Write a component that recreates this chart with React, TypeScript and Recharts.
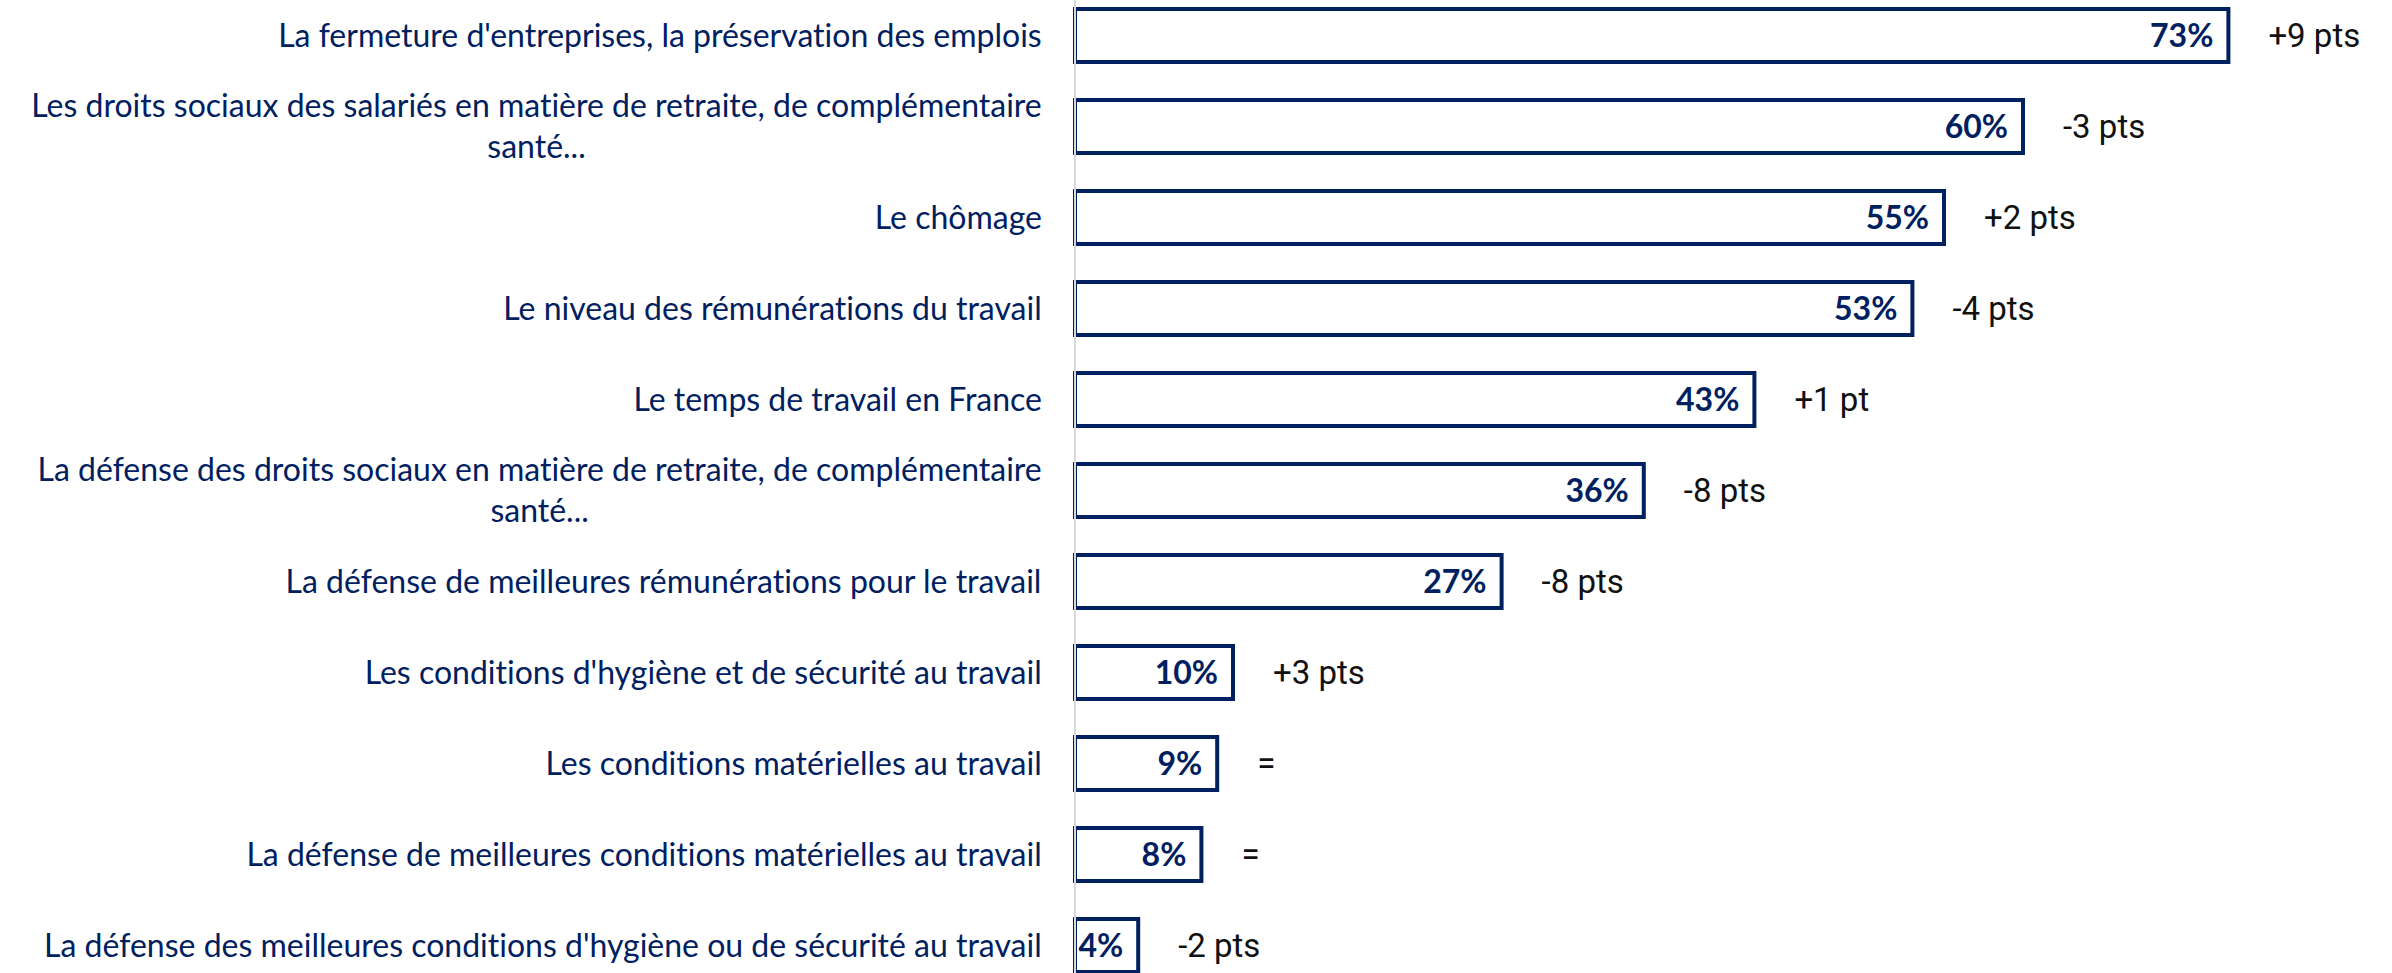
import { Bar, BarChart, LabelList, XAxis, YAxis } from 'recharts'

const categories = [
  "La fermeture d'entreprises, la préservation des emplois",
  'Les droits sociaux des salariés en matière de retraite, de complémentaire\nsanté...',
  'Le chômage',
  'Le niveau des rémunérations du travail',
  'Le temps de travail en France',
  'La défense des droits sociaux en matière de retraite, de complémentaire\nsanté...',
  'La défense de meilleures rémunérations pour le travail',
  "Les conditions d'hygiène et de sécurité au travail",
  'Les conditions matérielles au travail',
  'La défense de meilleures conditions matérielles au travail',
  "La défense des meilleures conditions d'hygiène ou de sécurité au travail",
]
const values = [73, 60, 55, 53, 43, 36, 27, 10, 9, 8, 4]
const changes = ['+9 pts', '-3 pts', '+2 pts', '-4 pts', '+1 pt', '-8 pts', '-8 pts', '+3 pts', '=', '=', '-2 pts']

const data = categories.map((name, i) => ({ name, value: values[i], change: changes[i] }))

const NAVY = '#002060'
const LABEL_FONT = 'Lato, "Noto Sans", sans-serif'
const LABEL_SIZE = 32
const LINE_GAP = 41
const noLigatures = { fontVariantLigatures: 'none' as const }

let ctx: CanvasRenderingContext2D | null = null
function textWidth(s: string) {
  if (!ctx) ctx = document.createElement('canvas').getContext('2d')
  if (!ctx) return s.length * LABEL_SIZE * 0.45
  ctx.font = `${LABEL_SIZE}px Lato`
  return ctx.measureText(s).width
}

// multi-line labels: block right-aligned, lines centred inside it
function CategoryTick({ x, y, payload }: any) {
  const lines = String(payload.value).split('\n')
  const w = Math.max(...lines.map(textWidth))
  const cx = x - w / 2
  return (
    <text textAnchor="middle" fill={NAVY} fontFamily={LABEL_FONT} fontSize={LABEL_SIZE} style={noLigatures}>
      {lines.map((line, i) => (
        <tspan key={i} x={cx} y={y + (i - (lines.length - 1) / 2) * LINE_GAP} dy="0.35em">
          {line}
        </tspan>
      ))}
    </text>
  )
}

export default function App() {
  return (
    <div style={{ position: 'absolute', left: 0, top: 0, width: 2392, height: 973, overflow: 'hidden', background: '#fff' }}>
      <div style={{ marginTop: -10 }}>
        <BarChart
          width={2392}
          height={1001}
          data={data}
          layout="vertical"
          margin={{ top: 0, right: 53, bottom: 0, left: 0 }}
        >
          <XAxis type="number" domain={[0, 80]} hide />
          <YAxis
            type="category"
            dataKey="name"
            width={1075}
            tickLine={false}
            tickSize={0}
            tickMargin={33}
            axisLine={{ stroke: '#d9d9d9', strokeWidth: 2 }}
            tick={<CategoryTick />}
            interval={0}
          />
          <Bar dataKey="value" fill="#fff" stroke={NAVY} strokeWidth={4} barSize={53} isAnimationActive={false}>
            <LabelList
              dataKey="value"
              position="insideRight"
              offset={15}
              formatter={(v: any) => `${v}%`}
              fill={NAVY}
              fontFamily={LABEL_FONT}
              fontWeight="bold"
              fontSize={32}
              style={noLigatures}
            />
            <LabelList
              dataKey="change"
              position="right"
              offset={40}
              fill="#111"
              fontFamily="Roboto, sans-serif"
              fontSize={33}
            />
          </Bar>
        </BarChart>
      </div>
    </div>
  )
}
